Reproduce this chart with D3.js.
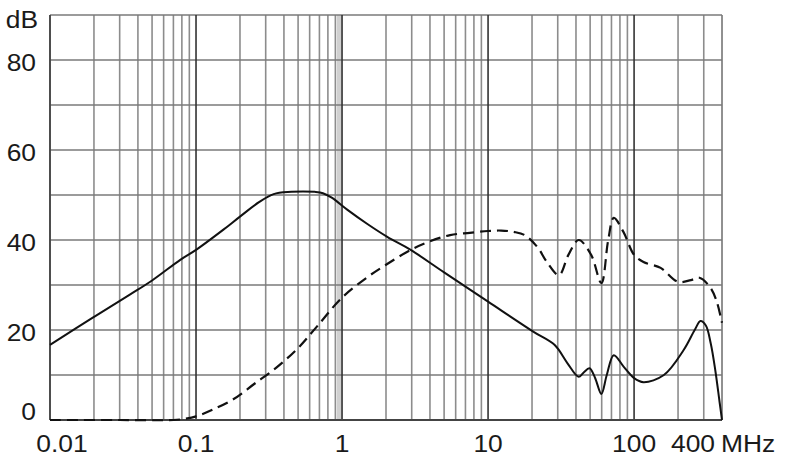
<!DOCTYPE html>
<html><head><meta charset="utf-8">
<script src="https://cdn.jsdelivr.net/npm/d3@7/dist/d3.min.js"></script>
<style>
html,body{margin:0;padding:0;background:#fff;}
svg{display:block;}
text{font-family:"Liberation Sans",Arial,sans-serif;fill:#1a1a1a;}
</style></head>
<body>
<svg id="chart" width="790" height="460"></svg>
<script>
// ---- data ----
const solidFreq = [0.01,0.02,0.035,0.05,0.078,0.1,0.154,0.2,0.27,0.34,0.45,0.54,0.65,0.74,0.85,1.09,1.5,2.04,2.95,5,10,20.5,28.5,35,41.7,45,49.5,54,59.7,65,72.6,85,100,116,160,219,260,285,310,335,360,385,400];
const solidDb   = [16.7,22.9,27.8,31,35.6,37.8,42.3,45.2,48.4,50.2,50.7,50.8,50.7,50.4,49.4,46.7,43.5,40.7,37.8,32.8,26.3,19.6,16.7,12.6,9.6,10.5,11.5,9.4,5.8,10,14.4,11.8,9.3,8.4,10,15.6,20,22,21,17,11,4,0];
const dashFreq = [0.01,0.03,0.07,0.085,0.1,0.13,0.18,0.25,0.36,0.5,0.67,1,1.5,2,2.95,4,5.5,7.5,10,12.3,15,17.8,21.8,25.3,30.6,35.5,41.7,50.8,59.7,66.5,72.6,84.5,100,116,152,200,245,280,330,365,400];
const dashDb   = [0,0,0,0.3,0.8,2.3,4.6,8,11.8,16,20.7,27.2,31.8,34.5,37.8,39.7,41.1,41.6,42,42.1,41.8,41.1,38.4,35.1,32.2,36.7,40,36.7,30.4,40,44.9,41.8,36.7,35.1,33.8,30.7,31.1,31.6,29.6,26.7,21.6];
const yTicks = [0,20,40,60,80];
const yTickLabels = ["0","20","40","60","80"];
const xTicks = [0.01,0.1,1,10,100,400];
const xTickLabels = ["0.01","0.1","1","10","100","400"];
const yUnit = "dB";
const xUnit = "MHz";

// ---- layout ----
const svg = d3.select("#chart");
const L = 50, R = 722, T = 15, B = 420;
const x = d3.scaleLog().domain([0.01, 400]).range([L, R]);
const y = d3.scaleLinear().domain([0, 90]).range([B, T]);

const gridX = [];
[0.01,0.1,1,10,100].forEach(d => { for (let k = 1; k <= 9; k++) { const v = +(d*k).toPrecision(3); if (v <= 400) gridX.push(v); } });
gridX.push(400);
const decades = [0.1,1,10,100];

svg.append("rect").attr("x", x(0.92)).attr("y", T).attr("width", x(1) - x(0.92)).attr("height", B - T).attr("fill", "#d0d0d0");

svg.append("g").selectAll("line").data(gridX.filter(v => !decades.includes(v))).join("line")
  .attr("x1", d => x(d)).attr("x2", d => x(d)).attr("y1", T).attr("y2", B)
  .attr("stroke", "#8c8c8c").attr("stroke-width", 1.6);
svg.append("g").selectAll("line").data(d3.range(0, 91, 10)).join("line")
  .attr("x1", L).attr("x2", R).attr("y1", d => y(d)).attr("y2", d => y(d))
  .attr("stroke", "#7a7a7a").attr("stroke-width", 1.6);
svg.append("g").selectAll("line").data(decades).join("line")
  .attr("x1", d => x(d)).attr("x2", d => x(d)).attr("y1", T).attr("y2", B)
  .attr("stroke", "#333").attr("stroke-width", 1.6);
svg.append("line").attr("x1", L).attr("x2", L).attr("y1", T).attr("y2", B).attr("stroke", "#444").attr("stroke-width", 1.8);
svg.append("line").attr("x1", L).attr("x2", R).attr("y1", B).attr("y2", B).attr("stroke", "#444").attr("stroke-width", 1.8);

const line = d3.line().x(d => x(d[0])).y(d => y(d[1])).curve(d3.curveCatmullRom.alpha(0.5));
svg.append("path").datum(dashFreq.map((f,i)=>[f,dashDb[i]]))
  .attr("d", line).attr("fill","none").attr("stroke","#111").attr("stroke-width",2.2)
  .attr("stroke-dasharray","11,6");
svg.append("path").datum(solidFreq.map((f,i)=>[f,solidDb[i]]))
  .attr("d", line).attr("fill","none").attr("stroke","#111").attr("stroke-width",2);

const fs = 24;
svg.append("g").selectAll("text").data(yTicks).join("text")
  .attr("transform", (d,i) => `translate(36,${d === 0 ? B : y(d) + 11}) scale(1.1,1)`)
  .attr("text-anchor","end").attr("font-size", fs)
  .text((d,i) => yTickLabels[i]);
svg.append("text").attr("transform", `translate(38,28) scale(1.1,1)`).attr("text-anchor","end")
  .attr("font-size", fs).text(yUnit);

svg.append("g").selectAll("text").data(xTicks).join("text")
  .attr("transform", (d,i) => {
    let px = x(d);
    if (i === 0) px = x(d) + 12;
    if (d === 400) px = x(d) - 29;
    return `translate(${px},452) scale(1.1,1)`;
  })
  .attr("text-anchor","middle").attr("font-size", fs)
  .text((d,i) => xTickLabels[i]);
svg.append("text").attr("transform", `translate(${x(400) - 1},452) scale(1.1,1)`).attr("text-anchor","start")
  .attr("font-size", fs).text(xUnit);
</script>
</body></html>
